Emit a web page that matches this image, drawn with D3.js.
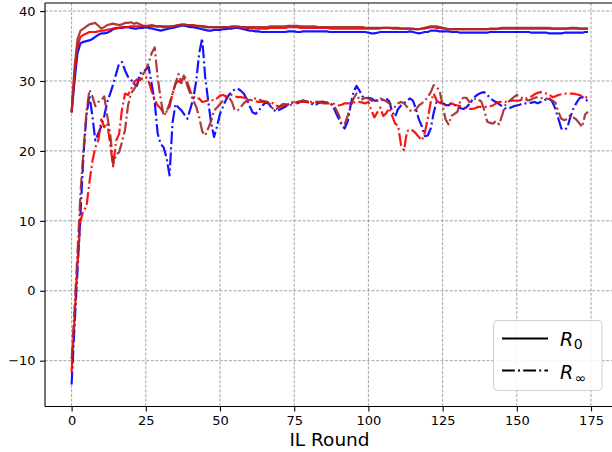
<!DOCTYPE html>
<html><head><meta charset="utf-8">
<script src="https://cdn.jsdelivr.net/npm/d3@7"></script>
<style>body{margin:0;background:#fff}svg{display:block}</style>
</head><body>
<svg id="chart" width="612" height="452"></svg>
<script>
// ---------- data ----------
const xTicks = [0, 25, 50, 75, 100, 125, 150, 175];
const yTicks = [-10, 0, 10, 20, 30, 40];
const xLabel = "IL Round";

const blueR0 = [25.5,30.0,34.0,35.4,35.6,35.7,35.8,36.0,36.3,36.6,
 36.8,36.8,36.9,37.1,37.4,37.5,37.6,37.6,37.7,37.7,
 37.6,37.5,37.5,37.6,37.6,37.7,37.6,37.5,37.4,37.3,
 37.2,37.3,37.4,37.5,37.6,37.7,37.8,37.9,37.9,37.8,
 37.7,37.7,37.6,37.5,37.4,37.3,37.2,37.2,37.3,37.3,
 37.3,37.4,37.4,37.5,37.5,37.6,37.6,37.5,37.4,37.3,
 37.2,37.2,37.1,37.1,37.0,37.0,37.0,37.0,37.0,37.0,
 37.0,37.0,37.0,37.1,37.1,37.1,37.0,37.0,37.1,37.1,
 37.1,37.1,37.1,37.1,37.1,37.1,37.1,37.0,37.0,37.0,
 37.0,37.0,37.0,37.0,37.0,37.0,37.0,37.0,37.0,37.0,
 36.9,36.8,36.8,36.9,37.0,37.0,37.0,37.0,37.0,37.0,
 37.0,37.0,37.0,37.0,37.1,37.0,36.9,36.8,36.9,37.0,
 37.0,37.2,37.2,37.2,37.1,37.1,37.1,37.1,37.0,37.0,
 37.0,36.9,36.9,36.9,36.9,36.9,36.9,36.9,36.9,36.9,
 36.9,37.0,37.0,37.0,37.0,37.0,37.0,37.0,37.0,37.0,
 37.0,37.0,37.0,37.0,37.0,36.9,36.9,36.9,36.9,36.9,
 36.9,36.8,36.8,36.8,36.8,36.8,36.9,36.9,36.9,36.9,
 36.9,36.9,36.9,37.0,37.0];

const redR0 = [25.5,31.0,35.0,36.3,36.6,36.8,37.0,37.0,37.0,37.1,
 37.2,37.2,37.3,37.4,37.5,37.6,37.6,37.7,37.7,37.7,
 37.8,37.8,37.8,37.8,37.9,37.9,37.9,37.8,37.8,37.8,
 37.8,37.8,37.8,37.8,37.8,37.9,38.0,38.1,38.1,38.0,
 38.0,38.0,37.9,37.9,37.8,37.7,37.7,37.7,37.7,37.7,
 37.7,37.7,37.7,37.7,37.8,37.8,37.8,37.7,37.7,37.6,
 37.6,37.6,37.5,37.5,37.5,37.5,37.5,37.6,37.6,37.6,
 37.6,37.6,37.6,37.7,37.7,37.7,37.7,37.6,37.6,37.6,
 37.6,37.6,37.6,37.6,37.6,37.6,37.6,37.5,37.5,37.5,
 37.5,37.5,37.5,37.5,37.5,37.5,37.5,37.5,37.5,37.5,
 37.5,37.5,37.5,37.5,37.5,37.6,37.6,37.6,37.5,37.5,
 37.5,37.5,37.5,37.5,37.5,37.5,37.4,37.4,37.5,37.5,
 37.6,37.7,37.7,37.6,37.6,37.5,37.5,37.4,37.4,37.4,
 37.4,37.4,37.4,37.4,37.4,37.4,37.4,37.4,37.4,37.4,
 37.4,37.4,37.4,37.4,37.5,37.5,37.5,37.5,37.5,37.5,
 37.5,37.5,37.5,37.5,37.5,37.5,37.5,37.5,37.5,37.5,
 37.5,37.5,37.5,37.5,37.5,37.5,37.5,37.5,37.5,37.5,
 37.5,37.5,37.5,37.5,37.5];

const brownR0 = [25.5,32.0,36.0,37.2,37.5,37.8,38.1,38.2,38.3,37.9,
 37.5,37.7,38.0,38.1,38.2,38.1,38.0,38.1,38.3,38.3,
 38.4,38.2,38.3,38.1,37.9,37.8,37.9,38.0,37.9,37.8,
 37.8,37.7,37.7,37.7,37.8,37.9,38.0,38.0,38.0,38.0,
 38.0,37.9,37.9,37.8,37.8,37.8,37.7,37.7,37.7,37.7,
 37.7,37.7,37.7,37.7,37.7,37.7,37.7,37.7,37.7,37.7,
 37.7,37.7,37.7,37.7,37.7,37.7,37.7,37.8,37.8,37.8,
 37.8,37.8,37.8,37.9,37.9,37.9,37.9,37.8,37.8,37.8,
 37.8,37.8,37.8,37.7,37.7,37.7,37.7,37.7,37.7,37.7,
 37.7,37.7,37.7,37.7,37.7,37.7,37.7,37.7,37.7,37.6,
 37.6,37.6,37.6,37.6,37.6,37.6,37.6,37.6,37.6,37.6,
 37.6,37.5,37.5,37.5,37.5,37.4,37.4,37.4,37.5,37.6,
 37.7,37.8,37.8,37.8,37.7,37.6,37.5,37.4,37.4,37.4,
 37.4,37.4,37.4,37.4,37.4,37.4,37.4,37.4,37.4,37.4,
 37.4,37.5,37.5,37.5,37.5,37.6,37.6,37.6,37.6,37.6,
 37.6,37.6,37.6,37.6,37.6,37.6,37.6,37.6,37.6,37.6,
 37.6,37.6,37.5,37.5,37.5,37.5,37.5,37.5,37.6,37.6,
 37.6,37.5,37.5,37.5,37.5];

const blueRinf = [-13.4,-5,3,11,19.5,25,28,25,21.5,22.5,
 23.5,25,27,28.2,29.5,31,32.5,32.7,31.5,30.6,
 30.2,29.6,29.3,31,31.4,31.6,32,29.5,27,22.5,
 21,20.5,19,16.5,24,26.7,26.2,25.8,25.2,24.6,
 26,27.5,30,34,36.1,30.6,27.2,24,22,23.5,
 25.3,26.3,27.3,28,28.5,28.8,28.9,28.6,28.2,27.4,
 26.4,25.5,25.3,25.7,26.3,26.8,26.9,26.4,25.9,25.6,
 25.9,26.1,26.3,26.7,27,26.9,26.8,27,27.2,27.1,
 27,26.7,26.5,26.8,27,27,26.9,26.8,26.5,25.5,
 24.6,23.7,23.2,24.2,26.5,28.5,29.3,28.6,27.8,27.5,
 27.6,27.5,27.2,27.2,27.2,27.3,27.5,27.1,25.6,24.9,
 26,26.5,26.8,27.2,27.5,27.2,26,24.5,23.5,22.1,
 22.2,23.2,25.5,27,27,26.8,26.6,26.5,26.8,26.6,
 26.3,26.1,26,26.2,26.7,27.3,27.8,28.1,28.3,28.4,
 28,27.6,27.2,27,26.7,26.4,26.1,26,26.2,26.4,
 26.5,26.6,26.8,26.8,26.8,26.9,27,26.8,27,27.2,
 27.4,27.5,27,26,24.6,23.2,23,23.3,24.8,26,
 26.8,27.5,27.7,27.5,27];

const redRinf = [-11.7,-4,4,10,11.5,12,15.5,18.5,20.5,21.5,
 24.5,23.4,24,21,17.8,21.5,22.4,26,28.2,28,
 28.8,29.8,30.2,30.1,30.4,30.6,29.9,28.5,27.3,26.5,
 26.1,25.5,25.6,26.3,28.2,29.6,30,29.7,30.3,29.8,
 28.5,27.8,27.4,27.5,27,27.1,27.2,27.3,27.2,27.5,
 27.9,28,27.8,27.9,28,27.8,27.7,27.7,27.6,27.5,
 27.3,27.2,27.1,27,27,27,27,26.9,26.8,26.5,
 26.3,26.4,26.5,26.6,26.8,26.9,27,27,27,27,
 26.9,26.8,26.9,27,26.9,26.8,26.8,26.8,26.8,26.6,
 26.5,26.6,26.8,26.8,26.8,26.9,27,27,26.9,26.8,
 27,25.8,24.8,25.5,26.2,25,25.4,26.1,25,23.9,
 23.6,20.8,20.1,22.8,23.1,22.9,22.5,22,21.5,22.6,
 24.6,27,28.2,27.2,26.9,26.7,26.5,26.6,26.8,26.6,
 26.5,26.4,26.3,26.1,26,26,26.1,26.3,26.3,26.3,
 26.3,26.4,26.5,26.8,27,27,27,27.1,27.2,27.2,
 27.2,27.2,27.4,27.5,27.6,27.8,28.1,28.3,28.4,28.3,
 28.2,28,27.7,27.8,28,28.1,28.2,28.2,28.2,28.2,
 28.1,28,27.8,27.7,27.6];

const brownRinf = [-9.8,-2.5,5.5,14,20,25.5,28.7,27.8,26.4,27,
 27.2,27.8,25,22.5,18,19.5,19.8,21.3,23,26.5,
 28.2,28.8,29.5,30.1,30.9,31.6,32.6,34,34.8,30.5,
 27.5,25,25.6,26.8,28.2,29.6,31,29.8,31,29.3,
 28.2,27.2,26.3,24.8,22.8,22.2,23.2,24.3,25.8,26.2,
 26.7,27.2,27.6,27.7,27,25.8,25.8,26.3,26.8,27.2,
 27.3,27.4,27.5,27.4,27.2,27.1,27,26.6,25.9,26,
 26.3,26.7,26.7,26.5,26.6,26.9,27,27.1,27.2,27.1,
 27,27,27,27,27,27,26.9,26.8,26.6,26,
 25.2,23.8,23.8,25,26.3,27.5,28.2,27.3,27.4,27.6,
 27.5,27.2,27,27.3,27.5,27.3,27.1,26.8,26.6,26.3,
 26.8,27,26.8,26.3,25.8,25.6,25.9,26.5,26.8,27.2,
 27.7,28.4,29.4,29.1,28.6,26.5,24.5,23.8,25,25.3,
 25.6,27.2,27.6,27.6,27,27,27.5,27.3,27.1,25.9,
 24.2,24,23.9,24.3,23.8,25,26.5,27,27.3,27.7,
 28,27.8,27.5,27.3,27.2,27.4,27.6,27.7,27.6,27.5,
 27.5,27.4,27.2,26.9,25.6,24.6,24.4,24.6,25.1,24.8,
 24.5,24,23.4,25.2,25.6];

const seriesColors = { blue: "#0000ff", red: "#ff0000", brown: "#a52a2a" };

// ---------- chart ----------
const svg = d3.select("#chart");
const W = 612, H = 452;
const plot = { left: 45, top: 3, right: 612.4, bottom: 406.5 };
const x = d3.scaleLinear().domain([-8.96, 182.2]).range([plot.left, plot.right]);
const y = d3.scaleLinear().domain([-16.55, 41.15]).range([plot.bottom, plot.top]);
const FONT = "DejaVu Sans, Liberation Sans, sans-serif";

svg.append("rect").attr("width", W).attr("height", H).attr("fill", "#fff");

svg.append("defs").append("clipPath").attr("id", "clip")
  .append("rect").attr("x", plot.left).attr("y", plot.top)
  .attr("width", plot.right - plot.left).attr("height", plot.bottom - plot.top);

// grid
const grid = svg.append("g");
grid.selectAll("line.gx").data(xTicks).join("line")
  .attr("x1", d => x(d)).attr("x2", d => x(d))
  .attr("y1", plot.top).attr("y2", plot.bottom)
  .attr("stroke", "#8c8c8c").attr("stroke-width", 0.8).attr("stroke-dasharray", "3,1.6");
grid.selectAll("line.gy").data(yTicks).join("line")
  .attr("y1", d => y(d)).attr("y2", d => y(d))
  .attr("x1", plot.left).attr("x2", W)
  .attr("stroke", "#8c8c8c").attr("stroke-width", 0.8).attr("stroke-dasharray", "3,1.6");

// lines
const line = d3.line().x((d, i) => x(i)).y(d => y(d));
const dashDot = "12.8,3.2,2,3.2";
const series = [
  { v: blueR0, c: seriesColors.blue, dash: null },
  { v: redR0, c: seriesColors.red, dash: null },
  { v: brownR0, c: seriesColors.brown, dash: null },
  { v: blueRinf, c: seriesColors.blue, dash: dashDot },
  { v: redRinf, c: seriesColors.red, dash: dashDot },
  { v: brownRinf, c: seriesColors.brown, dash: dashDot },
];
const lg = svg.append("g").attr("clip-path", "url(#clip)");
series.forEach(s => {
  lg.append("path").datum(s.v)
    .attr("d", line)
    .attr("fill", "none")
    .attr("stroke", s.c)
    .attr("stroke-width", 2.2)
    .attr("stroke-opacity", 0.92)
    .attr("stroke-linejoin", "round")
    .attr("stroke-dasharray", s.dash);
});

// axes
const xAxis = svg.append("g").attr("transform", `translate(0,${plot.bottom})`)
  .call(d3.axisBottom(x).tickValues(xTicks).tickSize(4.9).tickPadding(4.8).tickSizeOuter(0));
const yAxis = svg.append("g").attr("transform", `translate(${plot.left},0)`)
  .call(d3.axisLeft(y).tickValues(yTicks).tickSize(4.9).tickPadding(4.5).tickSizeOuter(0));
[xAxis, yAxis].forEach(a => {
  a.select(".domain").remove();
  a.selectAll(".tick line").attr("stroke", "#000").attr("stroke-width", 1.1);
  a.selectAll(".tick text").attr("fill", "#000").style("font-family", FONT).style("font-size", "13px");
});

// spines
svg.append("line").attr("x1", plot.left).attr("x2", plot.left).attr("y1", plot.top).attr("y2", plot.bottom)
  .attr("stroke", "#000").attr("stroke-width", 1.1);
svg.append("line").attr("x1", plot.left).attr("x2", W).attr("y1", plot.bottom).attr("y2", plot.bottom)
  .attr("stroke", "#000").attr("stroke-width", 1.1);
svg.append("line").attr("x1", plot.left).attr("x2", W).attr("y1", plot.top).attr("y2", plot.top)
  .attr("stroke", "#000").attr("stroke-width", 1.1);

// x label
svg.append("text").attr("x", (plot.left + 614) / 2).attr("y", 446)
  .attr("text-anchor", "middle").style("font-family", FONT).style("font-size", "18.5px")
  .text(xLabel);

// legend
const leg = svg.append("g");
leg.append("rect").attr("x", 493.5).attr("y", 320.5).attr("width", 108.5).attr("height", 70)
  .attr("rx", 4).attr("fill", "#fff").attr("fill-opacity", 0.85).attr("stroke", "#d0d0d0").attr("stroke-width", 1);
leg.append("line").attr("x1", 502).attr("x2", 548).attr("y1", 338.5).attr("y2", 338.5)
  .attr("stroke", "#000").attr("stroke-width", 2);
leg.append("line").attr("x1", 502).attr("x2", 548).attr("y1", 370.5).attr("y2", 370.5)
  .attr("stroke", "#000").attr("stroke-width", 2).attr("stroke-dasharray", dashDot);
const t1 = leg.append("text").attr("x", 560).attr("y", 346).style("font-family", FONT).style("font-size", "19px");
t1.append("tspan").style("font-style", "italic").text("R");
t1.append("tspan").attr("dy", 3).attr("dx", 0.5).style("font-size", "14px").text("0");
const t2 = leg.append("text").attr("x", 560).attr("y", 378.5).style("font-family", FONT).style("font-size", "19px");
t2.append("tspan").style("font-style", "italic").text("R");
t2.append("tspan").attr("dy", 4).attr("dx", 1.5).style("font-size", "14px").text("∞");
</script>
</body></html>
